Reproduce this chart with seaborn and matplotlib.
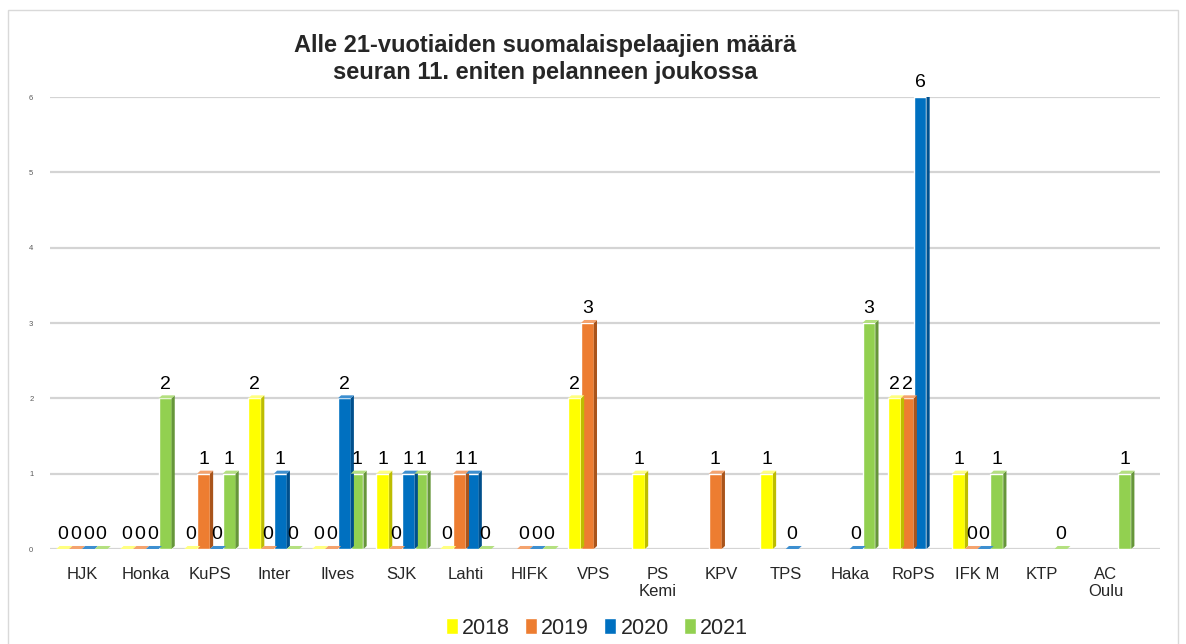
import numpy as np
import pandas as pd
import matplotlib
matplotlib.use("Agg")
import matplotlib.pyplot as plt
from matplotlib.patches import Polygon, Rectangle
import seaborn as sns

n = np.nan
clubs = ["HJK", "Honka", "KuPS", "Inter", "Ilves", "SJK", "Lahti", "HIFK", "VPS",
         "PS\nKemi", "KPV", "TPS", "Haka", "RoPS", "IFK M", "KTP", "AC\nOulu"]
years = ["2018", "2019", "2020", "2021"]
v2018 = [0, 0, 0, 2, 0, 1, 0, n, 2, 1, n, 1, n, 2, 1, n, n]
v2019 = [0, 0, 1, 0, 0, 0, 1, 0, 3, n, 1, n, n, 2, 0, n, n]
v2020 = [0, 0, 0, 1, 2, 1, 1, 0, n, n, n, 0, 0, 6, 0, n, n]
v2021 = [0, 2, 1, 0, 1, 1, 0, 0, n, n, n, n, 3, n, 1, 0, 1]

colors = ["#FFFF00", "#ED7D31", "#0070C0", "#92D050"]
sides = ["#BDBD00", "#A9541B", "#004F8C", "#66963A"]
tops = ["#FFFF80", "#F4A36E", "#3D8FD0", "#B4E080"]

df = pd.DataFrame({"seura": clubs * 4,
                   "vuosi": [y for y in years for _ in clubs],
                   "maara": v2018 + v2019 + v2020 + v2021}).dropna()

sns.set_style("white")
plt.rcParams["font.family"] = ["Liberation Sans", "DejaVu Sans"]

fig = plt.figure(figsize=(11.86, 6.44), dpi=100)
ax = fig.add_axes([50 / 1186, 1 - 549 / 644, 1110 / 1186, 452 / 644])

sns.barplot(data=df, x="seura", y="maara", hue="vuosi", order=clubs,
            hue_order=years, palette=colors, saturation=1, width=0.8,
            errorbar=None, ax=ax, legend=False, zorder=3)

# pseudo 3D: side and top faces
dx, dy = 0.05, 0.04
for cont, sc, tc in zip(ax.containers, sides, tops):
    for p in cont:
        x, w, h = p.get_x(), p.get_width(), p.get_height()
        ax.add_patch(Polygon([(x + w, 0), (x + w + dx, dy), (x + w + dx, h + dy), (x + w, h)],
                             closed=True, facecolor=sc, edgecolor="none", zorder=3))
        ax.add_patch(Polygon([(x, h), (x + dx, h + dy), (x + w + dx, h + dy), (x + w, h)],
                             closed=True, facecolor=tc, edgecolor="none", zorder=3))
    ax.bar_label(cont, fmt="%.0f", padding=4, fontsize=14, color="black", clip_on=False)

ax.set_ylim(0, 6)
ax.set_xlim(-0.5, 16.85)
ax.set_yticks(range(0, 7))
ax.yaxis.grid(True, color="#D4D4D4", linewidth=1.6, zorder=0)
ax.set_axisbelow(True)
for s in ax.spines.values():
    s.set_visible(False)
ax.tick_params(axis="y", labelsize=5.5, labelcolor="#595959", length=0, pad=12)
ax.tick_params(axis="x", labelsize=12, length=0, pad=13)
ax.set_xlabel("")
ax.set_ylabel("")

fig.text(545 / 1186, 1 - 59 / 644,
         "Alle 21-vuotiaiden suomalaispelaajien määrä\nseuran 11. eniten pelanneen joukossa",
         ha="center", va="center", fontsize=17, fontweight="bold", linespacing=1.2)

handles = [Rectangle((0, 0), 1, 1, facecolor=c) for c in colors]
fig.legend(handles, years, loc="center", bbox_to_anchor=(597 / 1186, 1 - 628 / 644),
           ncol=4, frameon=False, fontsize=15.5, handlelength=0.55, handleheight=0.8,
           handletextpad=0.2, columnspacing=0.7)

fig.patches.append(Rectangle((8 / 1186, -0.01), 1170 / 1186, 1 - 10 / 644 + 0.01,
                             transform=fig.transFigure, fill=False,
                             edgecolor="#D9D9D9", linewidth=1))

fig.savefig("out.png", dpi=100)
